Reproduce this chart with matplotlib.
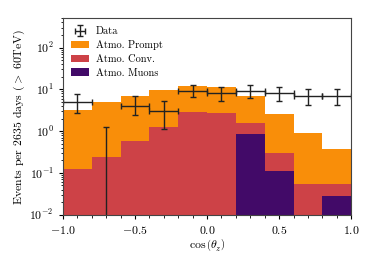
import numpy as np
import matplotlib
matplotlib.use('Agg')
from matplotlib import pyplot as plt

plt.rcParams['font.family'] = 'serif'
plt.rcParams['font.serif'] = ['cmr10']
plt.rcParams['mathtext.fontset'] = 'cm'
plt.rcParams['axes.formatter.use_mathtext'] = True
plt.rcParams['axes.unicode_minus'] = True

# histogram bins in cos(zenith)
bin_edges = np.linspace(-1.0, 1.0, 11)
muons  = [0, 0, 0, 0, 0, 0, 0.86, 0.112, 0, 0.028]
conv   = [0.125, 0.246, 0.575, 1.27, 2.86, 2.7, 0.74, 0.184, 0.054, 0.027]
prompt = [3.1, 4.85, 6.4, 8.3, 9.3, 8.4, 5.2, 2.26, 0.87, 0.32]

# data points
data_x    = [-0.9, -0.7, -0.5, -0.3, -0.1, 0.1, 0.3, 0.5, 0.7, 0.9]
data_y    = [5, 0, 4, 3, 9, 8, 9, 8, 7, 7]
data_ylo  = [2.75, 0, 2.37, 1.12, 6.4, 5.25, 6.3, 5.25, 4.27, 4.3]
data_yhi  = [7.8, 1.29, 6.9, 5.15, 12.9, 11.4, 12.9, 11.4, 10.3, 10.3]
data_xerr = 0.1

fig = plt.figure(figsize=(3.74, 2.67), dpi=100)
ax = fig.add_axes([0.168, 0.196, 0.771, 0.735])

left = bin_edges[:-1]
width = np.diff(bin_edges)
muons = np.array(muons)
conv = np.array(conv)
prompt = np.array(prompt)

ax.bar(left, prompt, width=width, bottom=muons + conv, align='edge',
       color='#f98e09', label='Atmo. Prompt', linewidth=0)
ax.bar(left, conv, width=width, bottom=muons, align='edge',
       color='#cd4247', label='Atmo. Conv.', linewidth=0)
ax.bar(left, np.where(muons > 0, muons, np.nan), width=width, align='edge',
       color='#420a68', label='Atmo. Muons', linewidth=0)

y = np.array(data_y, dtype=float)
yerr = [y - np.array(data_ylo), np.array(data_yhi) - y]
y_plot = np.where(y > 0, y, 1e-6)
yerr[0] = np.where(y > 0, yerr[0], 0)
yerr[1] = np.where(y > 0, yerr[1], np.array(data_yhi))
ax.errorbar(data_x, y_plot, yerr=yerr, xerr=data_xerr, fmt='none',
            ecolor='#222222', elinewidth=1.0, capsize=2, capthick=1.0,
            label='Data')

ax.set_yscale('log')
ax.set_xlim(-1.0, 1.0)
ax.set_ylim(1e-2, 5e2)
ax.set_xticks([-1.0, -0.5, 0.0, 0.5, 1.0])
ax.set_xticks(np.arange(-1.0, 1.01, 0.1), minor=True)
ax.tick_params(labelsize=8.5, direction='out', length=3)
ax.tick_params(which='minor', length=1.8)

ax.set_xlabel(r'$\cos\left(\theta_z\right)$', fontsize=8.5, labelpad=1)
ax.set_ylabel(r'Events per 2635 days ($>$ 60TeV)', fontsize=8.5, labelpad=2)

for s in ax.spines.values():
    s.set_color('#444444')

h, l = ax.get_legend_handles_labels()
order = [3, 0, 1, 2]
ax.legend([h[i] for i in order], [l[i] for i in order], loc='upper left',
          frameon=False, fontsize=7.5, handlelength=1.7, handletextpad=0.7,
          borderaxespad=0.4, labelspacing=0.4)

fig.savefig('out.png', dpi=100)
